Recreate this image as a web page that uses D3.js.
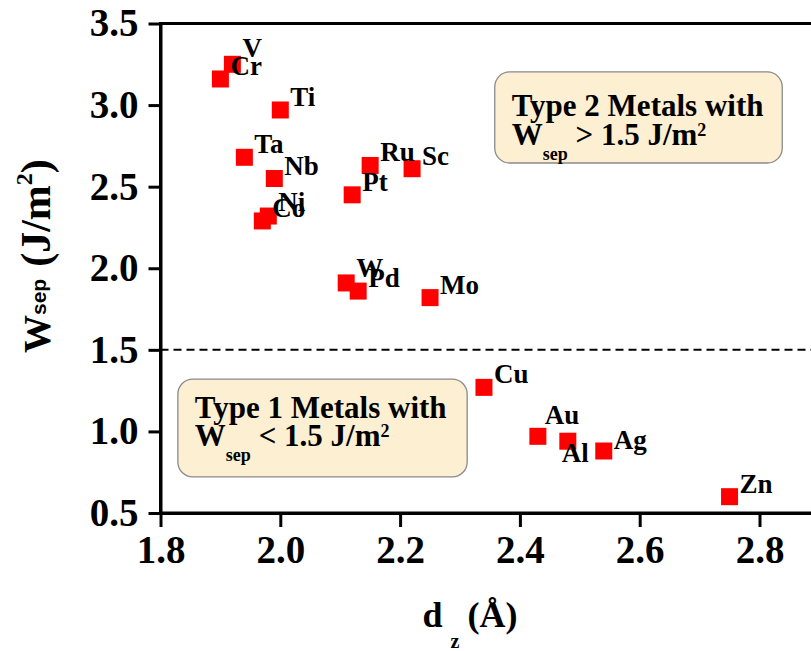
<!DOCTYPE html>
<html>
<head>
<meta charset="utf-8">
<script src="https://cdn.jsdelivr.net/npm/d3@7"></script>
<style>
  body { margin: 0; background: #fff; }
  text { font-family: "Liberation Serif", "Times New Roman", serif; font-weight: bold; fill: #000; }
</style>
</head>
<body>
<script>
// data
var metals = ["V", "Cr", "Ti", "Ta", "Nb", "Ni", "Co", "Ru", "Sc", "Pt", "W", "Pd", "Mo", "Cu", "Au", "Al", "Ag", "Zn"];
var dz     = [1.92, 1.90, 2.00, 1.94, 1.99, 1.98, 1.97, 2.15, 2.22, 2.12, 2.11, 2.13, 2.25, 2.34, 2.43, 2.48, 2.54, 2.75];
var wsep   = [3.25, 3.16, 2.97, 2.68, 2.55, 2.32, 2.29, 2.63, 2.61, 2.45, 1.91, 1.86, 1.82, 1.27, 0.97, 0.94, 0.88, 0.60];
var xTicks = [1.8, 2.0, 2.2, 2.4, 2.6, 2.8];
var yTicks = [0.5, 1.0, 1.5, 2.0, 2.5, 3.0, 3.5];
var threshold = 1.5;

var width = 811, height = 651;

var svg = d3.select("body").append("svg")
    .attr("width", width)
    .attr("height", height);

var x = d3.scaleLinear().domain([1.8, 2.9]).range([160.5, 819.4]);
var y = d3.scaleLinear().domain([0.5, 3.5]).range([513, 23.5]);

// frame, right edge falls outside the picture
svg.append("rect")
    .attr("x", x(1.8))
    .attr("y", y(3.5))
    .attr("width", x(2.9) - x(1.8))
    .attr("height", y(0.5) - y(3.5))
    .attr("fill", "none")
    .attr("stroke", "#000")
    .attr("stroke-width", 3);

var yAxis = svg.append("g")
    .attr("transform", "translate(" + x(1.8) + ",0)")
    .call(d3.axisLeft(y).tickValues(yTicks).tickSize(12).tickSizeOuter(0)
        .tickPadding(10).tickFormat(d3.format(".1f")));

var xAxis = svg.append("g")
    .attr("transform", "translate(0," + y(0.5) + ")")
    .call(d3.axisBottom(x).tickValues(xTicks).tickSize(14).tickSizeOuter(0)
        .tickPadding(8).tickFormat(d3.format(".1f")));

[xAxis, yAxis].forEach(function (g) {
    g.select(".domain").attr("stroke-width", 3);
    g.selectAll(".tick line").attr("stroke-width", 3);
    g.selectAll(".tick text").style("font-size", "39px");
});

// threshold line
svg.append("line")
    .attr("x1", x(1.8))
    .attr("x2", x(2.9))
    .attr("y1", y(threshold))
    .attr("y2", y(threshold))
    .attr("stroke", "#000")
    .attr("stroke-width", 2)
    .attr("stroke-dasharray", "8,5");

var points = metals.map(function (m, i) { return {name: m, dz: dz[i], w: wsep[i]}; });

svg.selectAll(".pt")
    .data(points)
    .enter().append("rect")
    .attr("class", "pt")
    .attr("x", function (d) { return x(d.dz) - 8.5; })
    .attr("y", function (d) { return y(d.w) - 8.5; })
    .attr("width", 17)
    .attr("height", 17)
    .attr("fill", "#ff0000");

// label nudges (px) where they differ from the usual spot
var nudge = {V: [10, -7], W: [10, -6], Au: [7, -12], Al: [-6, 21], Ag: [10, -2], Ni: [10, -5]};

svg.selectAll(".lbl")
    .data(points)
    .enter().append("text")
    .attr("class", "lbl")
    .attr("x", function (d) { return x(d.dz) + (nudge[d.name] ? nudge[d.name][0] : 10); })
    .attr("y", function (d) { return y(d.w) + (nudge[d.name] ? nudge[d.name][1] : -4); })
    .style("font-size", "27px")
    .text(function (d) { return d.name; });

// annotation boxes
function noteBox(x0, x1, yTop, yBot, first, sign, base1, base2) {
    var bx = x(x0), by = y(yTop);
    svg.append("rect")
        .attr("x", bx).attr("y", by)
        .attr("width", x(x1) - bx).attr("height", y(yBot) - by)
        .attr("rx", 15).attr("ry", 15)
        .attr("fill", "#fcefd2")
        .attr("stroke", "#8a8a8a")
        .attr("stroke-width", 1.3);
    svg.append("text")
        .attr("x", bx + 17).attr("y", by + base1)
        .style("font-size", "31px")
        .text(first);
    var t = svg.append("text")
        .attr("x", bx + 17).attr("y", by + base2)
        .style("font-size", "31px");
    t.append("tspan").text("W");
    t.append("tspan").attr("dy", 15).style("font-size", "18px").text("sep");
    t.append("tspan").attr("dy", -15).text(" " + sign + " 1.5 J/m");
    t.append("tspan").attr("dy", -9).style("font-size", "18px").text("2");
}
noteBox(2.358, 2.838, 3.203, 2.645, "Type 2 Metals with", ">", 44, 73);
noteBox(1.829, 2.312, 1.321, 0.721, "Type 1 Metals with", "<", 39, 67);

// x axis title
var xt = svg.append("text")
    .attr("x", x(1.8) + 262)
    .attr("y", 627)
    .style("font-size", "36px");
xt.append("tspan").text("d");
xt.append("tspan").attr("dy", 21).attr("dx", 8).style("font-size", "20px").text("z");
xt.append("tspan").attr("dy", -21).attr("dx", 8).text("(Å)");

// y axis title, rotated
var yt = svg.append("text")
    .attr("transform", "translate(50,353) rotate(-90)")
    .style("font-size", "42px");
yt.append("tspan").style("font-size", "38px").text("W");
yt.append("tspan").attr("dy", -4)
    .style("font-family", "'Liberation Sans', Arial, sans-serif")
    .style("font-size", "21px")
    .text("sep");
yt.append("tspan").attr("dy", 4).attr("dx", 12).text("(J/m");
yt.append("tspan").attr("dy", -18).style("font-size", "24px").text("2");
yt.append("tspan").attr("dy", 18).text(")");
</script>
</body>
</html>
